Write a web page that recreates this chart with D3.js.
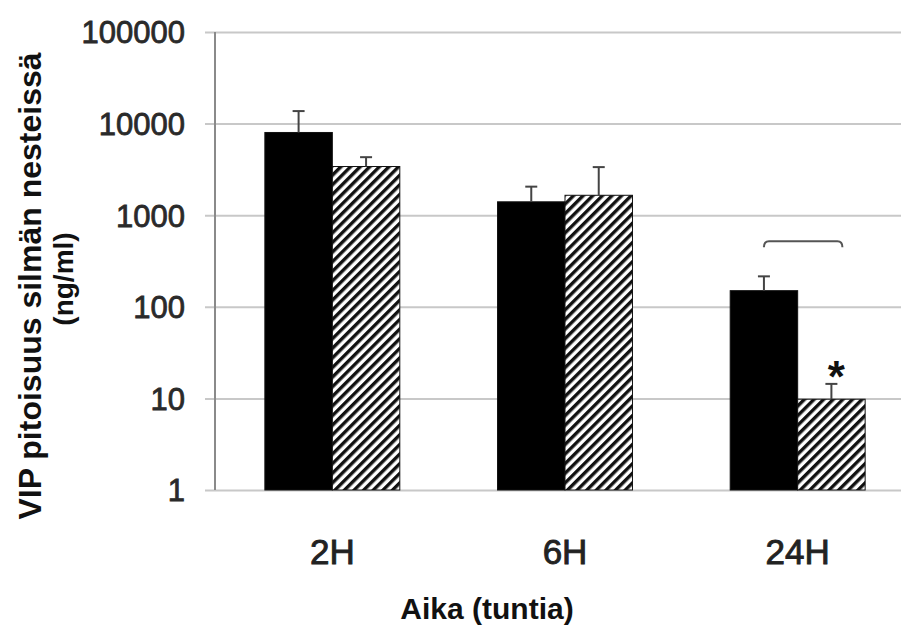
<!DOCTYPE html>
<html>
<head>
<meta charset="utf-8">
<script src="https://cdn.jsdelivr.net/npm/d3@7"></script>
<style>
  html, body { margin: 0; padding: 0; background: #fff; }
  svg { display: block; font-family: "Liberation Sans", Arial, sans-serif; }
</style>
</head>
<body>
<svg id="chart" width="901" height="628"></svg>
<script>
// VIP concentration in eye fluids (ng/ml), two groups per time point
const categories = ["2H", "6H", "24H"];
const groups = ["solid", "hatched"];
const solidValues = [8000, 1400, 150];
const solidErrors = [5700, 650, 65];
const hatchedValues = [3400, 1650, 9.8];
const hatchedErrors = [900, 1700, 4.6];
const yTicks = [1, 10, 100, 1000, 10000, 100000];
const bracketLevel = 520;   // height of the comparison bracket at 24H
const yTitle = "VIP pitoisuus silmän nesteissä";
const yUnit = "(ng/ml)";
const xTitle = "Aika (tuntia)";

const svg = d3.select("#chart");
const W = 901, H = 628;

const y = d3.scaleLog().domain([1, 100000]).range([490, 32]);
const x = d3.scaleBand().domain(categories).range([216, 914])
  .paddingInner(0.42).paddingOuter(0.21);
const xs = d3.scaleBand().domain(groups).range([0, x.bandwidth()]);

// diagonal hatch pattern
const defs = svg.append("defs");
const pat = defs.append("pattern")
  .attr("id", "hatch").attr("patternUnits", "userSpaceOnUse")
  .attr("width", 6.8).attr("height", 10)
  .attr("patternTransform", "rotate(45)");
pat.append("rect").attr("width", 6.8).attr("height", 10).attr("fill", "#fff");
pat.append("rect").attr("width", 3.4).attr("height", 10).attr("fill", "#111");

// gridlines and y axis
const yAxis = d3.axisLeft(y).tickValues(yTicks).tickFormat(d3.format("d"))
  .tickSize(-(W - 205)).tickPadding(20);
const gy = svg.append("g").attr("transform", "translate(205,0)").call(yAxis);
gy.select(".domain").remove();
gy.selectAll(".tick line").attr("stroke", "#c8c8c8").attr("stroke-width", 2);
gy.selectAll(".tick text").attr("fill", "#2a2a2a").attr("font-size", 31)
  .attr("stroke", "#2a2a2a").attr("stroke-width", 0.8)
  .attr("x", -20).attr("dy", "0.35em");

svg.append("line").attr("x1", 215).attr("x2", 215)
  .attr("y1", y(100000)).attr("y2", y(1))
  .attr("stroke", "#8a8a8a").attr("stroke-width", 2);

// bars
const rows = categories.map((c, i) => ({
  cat: c,
  bars: [
    { g: "solid", v: solidValues[i], e: solidErrors[i] },
    { g: "hatched", v: hatchedValues[i], e: hatchedErrors[i] }
  ]
}));

const grp = svg.append("g").selectAll("g").data(rows).join("g")
  .attr("transform", d => `translate(${x(d.cat)},0)`);

grp.selectAll("rect").data(d => d.bars).join("rect")
  .attr("x", d => xs(d.g))
  .attr("y", d => y(d.v))
  .attr("width", xs.bandwidth())
  .attr("height", d => y(1) - y(d.v))
  .attr("fill", d => d.g === "solid" ? "#000" : "url(#hatch)")
  .attr("stroke", "#111").attr("stroke-width", 1);

// upper error bars
const eb = grp.selectAll("g.err").data(d => d.bars).join("g").attr("class", "err");
eb.append("line")
  .attr("x1", d => xs(d.g) + xs.bandwidth() / 2)
  .attr("x2", d => xs(d.g) + xs.bandwidth() / 2)
  .attr("y1", d => y(d.v)).attr("y2", d => y(d.v + d.e))
  .attr("stroke", "#444").attr("stroke-width", 2);
eb.append("line")
  .attr("x1", d => xs(d.g) + xs.bandwidth() / 2 - 6)
  .attr("x2", d => xs(d.g) + xs.bandwidth() / 2 + 6)
  .attr("y1", d => y(d.v + d.e)).attr("y2", d => y(d.v + d.e))
  .attr("stroke", "#444").attr("stroke-width", 2);

// significance bracket and star at 24H
const c24 = x("24H");
const bx1 = c24 + xs("solid") + xs.bandwidth() / 2;
const bx2 = c24 + xs("hatched") + xs.bandwidth() / 2 + 11;
const by = y(bracketLevel);
svg.append("path")
  .attr("d", `M${bx1},${by + 6} Q${bx1},${by} ${bx1 + 5},${by} L${bx2 - 5},${by} Q${bx2},${by} ${bx2},${by + 6}`)
  .attr("fill", "none").attr("stroke", "#555").attr("stroke-width", 2);
const i24 = categories.indexOf("24H");
svg.append("text")
  .attr("x", c24 + xs("hatched") + xs.bandwidth() / 2 + 5)
  .attr("y", y(hatchedValues[i24] + hatchedErrors[i24]) + 8)
  .attr("text-anchor", "middle").attr("font-size", 44).attr("font-weight", "bold")
  .attr("fill", "#111").text("*");

// x tick labels
svg.append("g").selectAll("text").data(categories).join("text")
  .attr("x", d => x(d) + x.bandwidth() / 2)
  .attr("y", 564)
  .attr("text-anchor", "middle").attr("font-size", 35).attr("fill", "#222")
  .attr("stroke", "#222").attr("stroke-width", 0.9)
  .text(d => d);

// axis titles
svg.append("text")
  .attr("x", 487).attr("y", 619)
  .attr("text-anchor", "middle").attr("font-size", 30).attr("font-weight", "bold")
  .attr("fill", "#111").text(xTitle);

svg.append("text")
  .attr("transform", "translate(41,286) rotate(-90)")
  .attr("text-anchor", "middle").attr("font-size", 32).attr("font-weight", "bold")
  .attr("fill", "#111").text(yTitle);
svg.append("text")
  .attr("transform", "translate(73,279) rotate(-90)")
  .attr("text-anchor", "middle").attr("font-size", 28).attr("font-weight", "bold")
  .attr("fill", "#111").text(yUnit);
</script>
</body>
</html>
